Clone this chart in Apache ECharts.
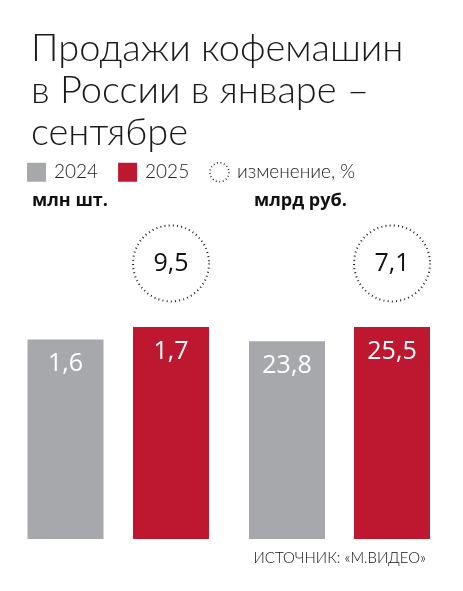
<!DOCTYPE html>
<html>
<head>
<meta charset="utf-8">
<script src="https://cdn.jsdelivr.net/npm/echarts@6/dist/echarts.min.js"></script>
<style>
  html, body { margin: 0; padding: 0; background: #fff; }
  #chart { width: 463px; height: 591px; }
</style>
</head>
<body>
<div id="chart"></div>
<script>
// chart data
var years = ['2024', '2025'];
var unitsMln = [1.6, 1.7];        // млн шт.
var revenueBln = [23.8, 25.5];    // млрд руб.
var changeUnits = 9.5;            // изменение, %
var changeRevenue = 7.1;
var groupNames = ['млн шт.', 'млрд руб.'];

var GRAY = '#a7a8ab';
var RED = '#be1730';
var CIRCLE_LIFT = 1.3; // circle sits this far above the 2025 bar, in bar units
var thin = '"Open Sans", "Noto Sans", sans-serif';
var light = 'Lato, "Open Sans", sans-serif';

function comma(v) {
  return String(v).replace('.', ',');
}

var chart = echarts.init(document.getElementById('chart'));

function barSeries(name, vals, idx, grid, color) {
  var data = vals.map(function (v, i) { return i === idx ? v : '-'; });
  return {
    name: name,
    type: 'bar',
    xAxisIndex: grid,
    yAxisIndex: grid,
    stack: 'g' + grid,
    barWidth: 76,
    data: data,
    itemStyle: { color: color },
    label: {
      show: true,
      position: 'insideTop',
      distance: 12,
      color: '#fff',
      fontFamily: thin,
      fontSize: 25,
      formatter: function (p) { return comma(p.value); }
    },
    emphasis: { disabled: true },
    silent: true
  };
}

function circleSeries(vals, change, grid) {
  return {
    name: 'изменение, %',
    type: 'scatter',
    xAxisIndex: grid,
    yAxisIndex: grid,
    symbol: 'circle',
    symbolSize: 76,
    data: [[1, vals[1] * CIRCLE_LIFT, change]],
    itemStyle: {
      color: 'rgba(0,0,0,0)',
      borderColor: '#222',
      borderWidth: 2,
      borderType: [1, 3.2],
      opacity: 1
    },
    label: {
      show: true,
      position: 'inside',
      color: '#111',
      fontFamily: thin,
      fontSize: 25,
      formatter: function (p) { return comma(p.value[2]); }
    },
    emphasis: { disabled: true },
    silent: true,
    z: 3
  };
}

var option = {
  animation: false,
  title: [
    {
      text: 'Продажи кофемашин\nв России в январе –\nсентябре',
      left: 26,
      top: 23,
      textStyle: {
        fontFamily: light,
        fontWeight: 300,
        fontSize: 38,
        lineHeight: 42,
        color: '#1a1a1a'
      }
    },
    {
      text: groupNames[0],
      left: 27,
      top: 187,
      textStyle: { fontFamily: thin, fontWeight: 'bold', fontSize: 18, color: '#111' }
    },
    {
      text: groupNames[1],
      left: 249,
      top: 187,
      textStyle: { fontFamily: thin, fontWeight: 'bold', fontSize: 18, color: '#111' }
    },
    {
      text: 'ИСТОЧНИК: «М.ВИДЕО»',
      right: 32,
      top: 546,
      textStyle: { fontFamily: light, fontWeight: 300, fontSize: 15, color: '#111' }
    }
  ],
  legend: {
    left: 22,
    top: 157,
    itemWidth: 19,
    itemHeight: 19,
    itemGap: 20,
    selectedMode: false,
    textStyle: { fontFamily: light, fontWeight: 300, fontSize: 19, color: '#222', padding: [0, 0, 0, 3] },
    data: [
      { name: '2024', icon: 'rect' },
      { name: '2025', icon: 'rect' },
      {
        name: 'изменение, %',
        icon: 'circle',
        itemStyle: { color: 'rgba(0,0,0,0)', borderColor: '#222', borderWidth: 1.5, borderType: [1, 2.5] }
      }
    ]
  },
  grid: [
    { left: 12.75, width: 211, top: 221, bottom: 52 },
    { left: 234.5, width: 210, top: 221, bottom: 52 }
  ],
  xAxis: [
    { type: 'category', gridIndex: 0, data: years, show: false },
    { type: 'category', gridIndex: 1, data: years, show: false }
  ],
  yAxis: [
    { type: 'value', gridIndex: 0, min: 0, max: unitsMln[1] * 1.5, show: false },
    { type: 'value', gridIndex: 1, min: 0, max: revenueBln[1] * 1.5, show: false }
  ],
  series: [
    barSeries('2024', unitsMln, 0, 0, GRAY),
    barSeries('2025', unitsMln, 1, 0, RED),
    barSeries('2024', revenueBln, 0, 1, GRAY),
    barSeries('2025', revenueBln, 1, 1, RED),
    circleSeries(unitsMln, changeUnits, 0),
    circleSeries(revenueBln, changeRevenue, 1)
  ]
};

chart.setOption(option);
</script>
</body>
</html>
